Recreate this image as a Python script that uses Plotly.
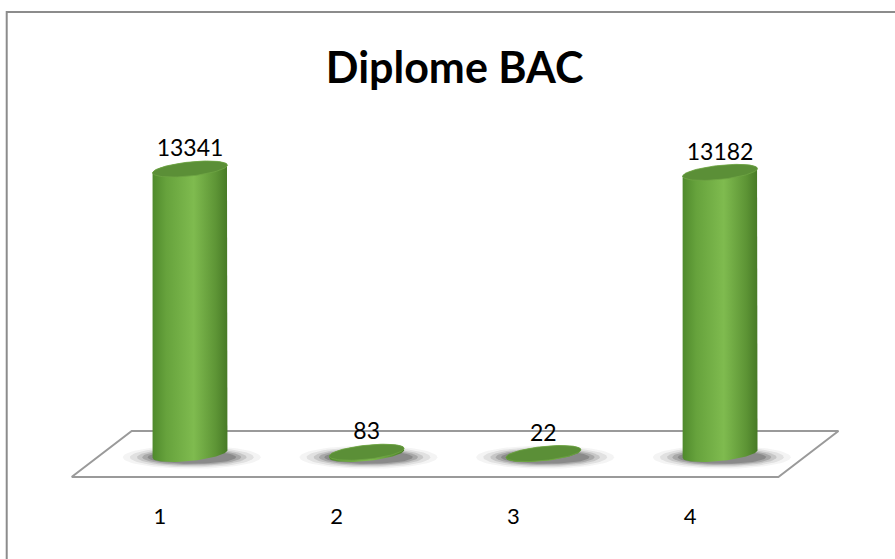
import numpy as np
import plotly.graph_objects as go

categories = ['1', '2', '3', '4']
values = [13341, 83, 22, 13182]
title = 'Diplome BAC'

# scales (chart units)
x_pos = np.arange(1, len(categories) + 1)
half_w = 0.212          # cylinder radius in x units
ell_h = 330             # ellipse half height in y units
tilt = 180              # slight tilt of the ellipses
depth_x = 0.17          # floor depth offset
depth_y = 1080

body_scale = [[0, '#4f8a2c'], [0.18, '#66a23c'], [0.55, '#7fbb4f'], [0.85, '#5d9435'], [1, '#477a26']]
top_color = '#5b8f37'

fig = go.Figure()

# floor
fx = [0.5 - depth_x, 4.5 - depth_x, 4.5 + depth_x, 0.5 + depth_x, 0.5 - depth_x]
fy = [-depth_y, -depth_y, depth_y, depth_y, -depth_y]
fig.add_trace(go.Scatter(x=fx, y=fy, mode='lines', fill='toself', fillcolor='white',
                         line=dict(color='#9a9a9a', width=2), hoverinfo='skip'))

t = np.linspace(0, 2 * np.pi, 80)

for c, v in zip(x_pos, values):
    # shadow, a stack of soft ellipses
    for sw, sh, a in [(0.39, 540, 0.05), (0.35, 470, 0.09), (0.31, 410, 0.13),
                      (0.28, 360, 0.18), (0.25, 310, 0.22)]:
        fig.add_trace(go.Scatter(x=c + 0.01 + sw * np.cos(t), y=-150 + sh * np.sin(t),
                                 mode='lines', fill='toself', line=dict(width=0),
                                 fillcolor=f'rgba(30,30,30,{a})', hoverinfo='skip'))
    # body: bottom front arc, right side up, top back arc
    tb = np.linspace(np.pi, 2 * np.pi, 40)
    tt = np.linspace(0, np.pi, 40)
    bx = np.concatenate([c + half_w * np.cos(tb), c + half_w * np.cos(tt)])
    by = np.concatenate([ell_h * np.sin(tb) + tilt * np.cos(tb),
                         v + ell_h * np.sin(tt) + tilt * np.cos(tt)])
    bx = np.append(bx, bx[0])
    by = np.append(by, by[0])
    fig.add_trace(go.Scatter(x=bx, y=by, mode='lines', fill='toself', line=dict(width=0),
                             fillgradient=dict(type='horizontal', colorscale=body_scale),
                             hoverinfo='skip'))
    # top ellipse
    fig.add_trace(go.Scatter(x=c + half_w * np.cos(t), y=v + ell_h * np.sin(t) + tilt * np.cos(t),
                             mode='lines', fill='toself', fillcolor=top_color,
                             line=dict(width=0.8, color='#6fa544'), hoverinfo='skip'))

# value labels
fig.add_trace(go.Scatter(x=x_pos, y=[v + ell_h for v in values], mode='text',
                         text=[str(v) for v in values], textposition='top center',
                         textfont=dict(family='Lato', size=23, color='#000000'), hoverinfo='skip'))

# category labels along the front edge of the floor
fig.add_trace(go.Scatter(x=x_pos - depth_x, y=[-3000] * len(categories), mode='text',
                         text=categories, textposition='middle center',
                         textfont=dict(family='Lato', size=22, color='#000000'), hoverinfo='skip'))

fig.update_layout(
    width=895, height=559,
    margin=dict(l=0, r=0, t=0, b=0),
    paper_bgcolor='white', plot_bgcolor='white',
    showlegend=False,
    title=dict(text=f'<b>{title}</b>', x=0.508, y=0.878, xanchor='center', yanchor='middle',
               font=dict(family='Lato', size=43, color='#000000')),
    xaxis=dict(range=[-0.0753, 4.990], visible=False, fixedrange=True),
    yaxis=dict(range=[-4915, 21252], visible=False, fixedrange=True),
    # chart frame: only the left and top edges are inside the picture
    shapes=[dict(type='path', xref='paper', yref='paper', layer='below',
                 path=f'M 0.0075,-0.1 L 0.0075,{1 - 12 / 559} L 1.1,{1 - 12 / 559}',
                 line=dict(color='#8c8c8c', width=2))]
)

fig.write_html('out.html', config={'displayModeBar': False},
               post_script="document.body.style.margin='0px';document.body.style.overflow='hidden';"
                           "document.documentElement.style.overflow='hidden';")
